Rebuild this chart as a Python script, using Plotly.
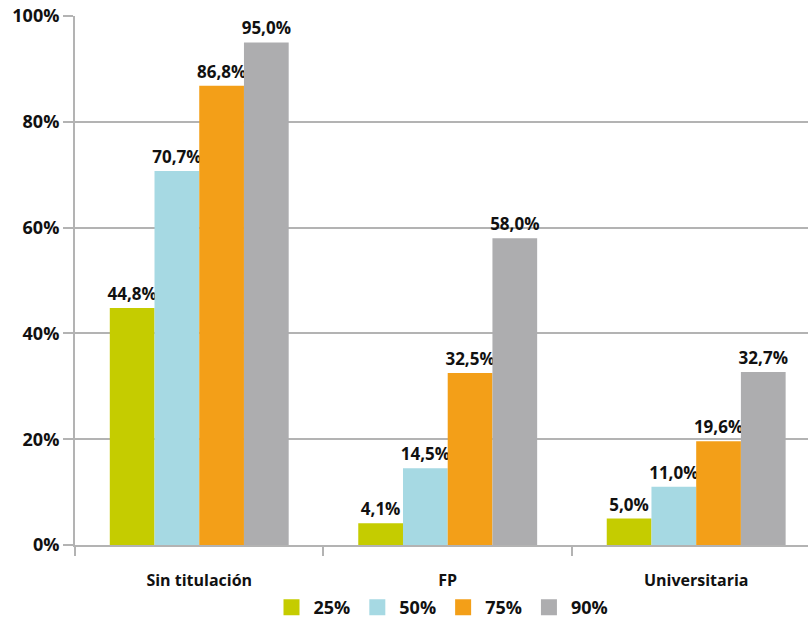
import plotly.graph_objects as go

categories = ["Sin titulación", "FP", "Universitaria"]
series_names = ["25%", "50%", "75%", "90%"]
values_25 = [44.8, 4.1, 5.0]
values_50 = [70.7, 14.5, 11.0]
values_75 = [86.8, 32.5, 19.6]
values_90 = [95.0, 58.0, 32.7]
colors = ["#c5cc00", "#a6d9e3", "#f39f18", "#adadaf"]
y_ticks = [0, 20, 40, 60, 80, 100]
y_tick_labels = ["0%", "20%", "40%", "60%", "80%", "100%"]

FONT = "Open Sans"
fig = go.Figure()
for name, vals, col in zip(series_names, [values_25, values_50, values_75, values_90], colors):
    fig.add_trace(go.Bar(
        x=[0, 1, 2], y=vals, name=name, marker=dict(color=col, line=dict(width=0)),
        text=vals, texttemplate="%{y:.1f}%", textposition="outside",
        constraintext="none",
        textfont=dict(family=FONT, size=17, color="#111111", weight="bold"),
        cliponaxis=False, showlegend=False,
    ))
# legend entries with larger square swatches
for name, col in zip(series_names, colors):
    fig.add_trace(go.Scatter(
        x=[None], y=[None], mode="markers", name=name,
        marker=dict(symbol="square", size=16, color=col), showlegend=True,
    ))

fig.update_layout(
    width=808, height=626,
    margin=dict(l=75, r=0, t=16, b=81),
    paper_bgcolor="white", plot_bgcolor="white",
    separators=",.",
    barmode="group", bargap=0.28, bargroupgap=0,
    font=dict(family=FONT, size=16, color="#111111"),
    legend=dict(orientation="h", x=0.5, xanchor="center", y=-0.119, yanchor="middle",
                font=dict(family=FONT, size=18, color="#111111", weight="bold"),
                itemwidth=34, traceorder="normal", tracegroupgap=0),
)
fig.update_xaxes(
    range=[-0.5, 2.45], tickmode="array", tickvals=[0, 1, 2], ticktext=categories,
    showgrid=False, showline=True, linecolor="#b3b3b3", linewidth=2,
    ticks="", ticklabelstandoff=20,
    tickfont=dict(family=FONT, size=16, color="#111111", weight="bold"),
    zeroline=False,
    minor=dict(tickmode="array", tickvals=[-0.5, 0.5, 1.5], ticks="outside",
               ticklen=9, tickwidth=2, tickcolor="#b3b3b3", showgrid=False),
)
fig.update_yaxes(
    range=[0, 100], tickmode="array", tickvals=y_ticks, ticktext=y_tick_labels,
    showgrid=True, gridcolor="#b3b3b3", gridwidth=2,
    showline=True, linecolor="#b3b3b3", linewidth=2,
    ticks="outside", ticklen=10, tickwidth=2, tickcolor="#b3b3b3",
    tickfont=dict(family=FONT, size=18, color="#111111", weight="bold"),
    zeroline=False,
)
fig.write_html("out.html")
